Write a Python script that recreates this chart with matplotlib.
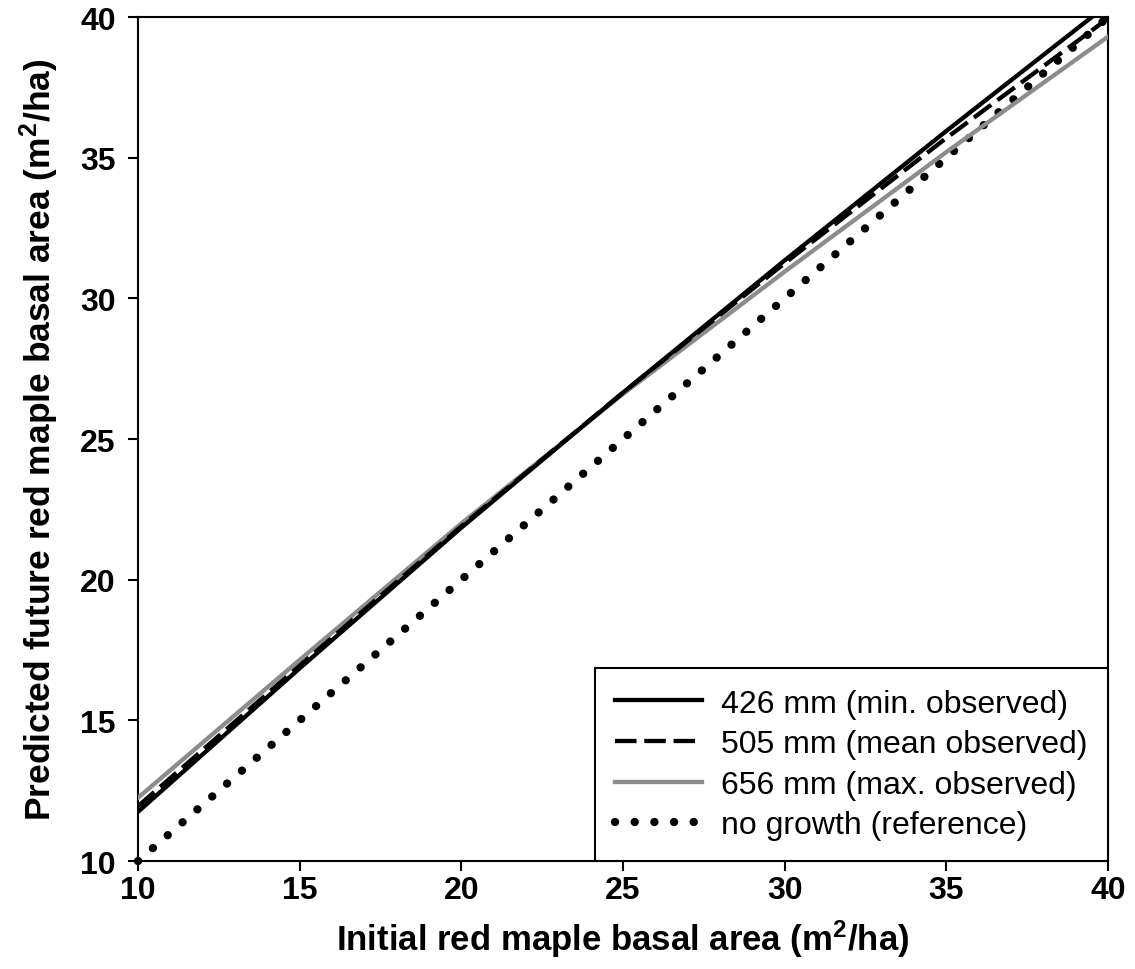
import matplotlib
matplotlib.use("Agg")
import matplotlib.pyplot as plt

plt.rcParams['font.family'] = ['Liberation Sans', 'DejaVu Sans']
plt.rcParams['mathtext.fontset'] = 'custom'
plt.rcParams['mathtext.rm'] = 'Liberation Sans:bold'
plt.rcParams['mathtext.default'] = 'rm'

# initial basal area (m2/ha)
x = [10, 15, 20, 25, 30, 35, 40]
# predicted future basal area for each precipitation level
y_min = [11.75, 16.85, 21.85, 26.65, 31.35, 35.95, 40.45]
y_mean = [11.95, 16.95, 21.9, 26.65, 31.25, 35.7, 39.95]
y_max = [12.25, 17.15, 22.0, 26.6, 30.95, 35.2, 39.3]
ref_x = [10, 40]
ref_y = [10, 40]

labels = ["426 mm (min. observed)", "505 mm (mean observed)",
          "656 mm (max. observed)", "no growth (reference)"]

fig = plt.figure(figsize=(11.35, 9.7), dpi=100)
ax = fig.add_axes([0.1216, 0.1113, 0.8546, 0.8701])

lw = 3.1
l4, = ax.plot(ref_x, ref_y, color='black', lw=6.0, linestyle=(0, (0.01, 2.35)),
              dash_capstyle='round', zorder=2, clip_on=False)
l3, = ax.plot(x, y_max, color='#8c8c8c', lw=lw, zorder=3)
l2, = ax.plot(x, y_mean, color='black', lw=lw, linestyle=(0, (5, 1.8)), zorder=4)
l1, = ax.plot(x, y_min, color='black', lw=lw, zorder=5)

ax.set_xlim(10, 40)
ax.set_ylim(10, 40)
ax.set_xticks([10, 15, 20, 25, 30, 35, 40])
ax.set_yticks([10, 15, 20, 25, 30, 35, 40])
ax.tick_params(direction='out', length=7, width=1.5, labelsize=23)
ax.tick_params(axis='x', pad=3)
ax.tick_params(axis='y', pad=9)
for lab in ax.get_xticklabels() + ax.get_yticklabels():
    lab.set_fontweight('bold')
for sp in ax.spines.values():
    sp.set_linewidth(1.5)

ax.set_xlabel("Initial red maple basal area (m$^2$/ha)", fontsize=25,
              fontweight='bold', labelpad=9)
ax.set_ylabel("Predicted future red maple basal area (m$^2$/ha)", fontsize=25.5,
              fontweight='bold', labelpad=14)

leg = ax.legend([l1, l2, l3, l4], labels, loc='lower right', fontsize=23,
                frameon=True, fancybox=False, edgecolor='black',
                borderaxespad=0, handlelength=2.7, handletextpad=0.6,
                labelspacing=0.33, borderpad=0.65)
leg.get_frame().set_linewidth(1.5)
leg.get_frame().set_alpha(1)

fig.savefig("out.png", dpi=100)
